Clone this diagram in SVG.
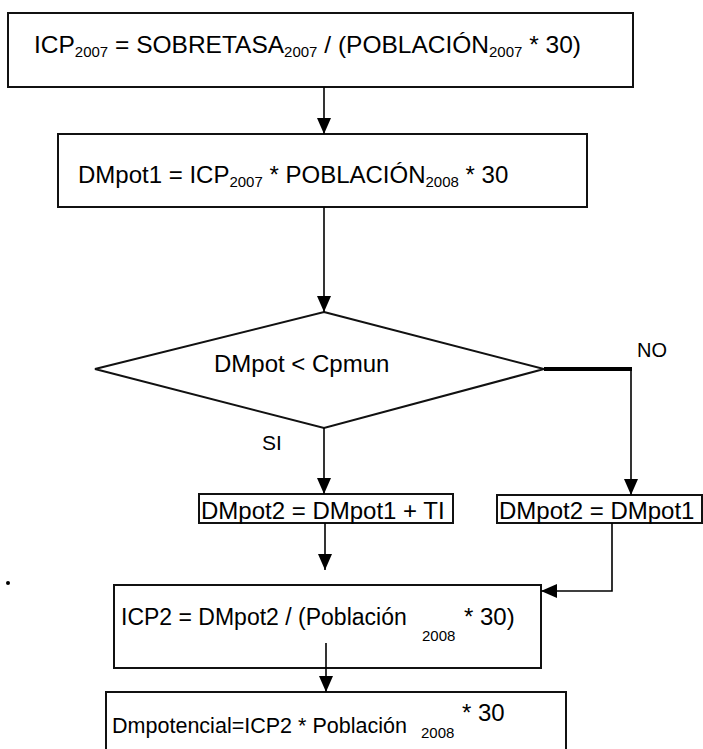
<svg xmlns="http://www.w3.org/2000/svg" width="703" height="749" viewBox="0 0 703 749">
<defs>
<marker id="ah" markerUnits="userSpaceOnUse" markerWidth="16" markerHeight="18" refX="16" refY="7" orient="auto">
<path d="M0,0 L16,7 L0,14 Z" fill="#000"/>
</marker>
<style>
.box{fill:#fff;stroke:#111;stroke-width:2}
.t{font-family:"Liberation Sans",Arial,sans-serif;font-size:24px;fill:#000}
.s{font-size:15px}
.c{fill:none;stroke:#000;stroke-width:1.6}
</style>
</defs>
<rect width="703" height="749" fill="#fff"/>
<g id="n1">
<rect class="box" x="8" y="13" width="625" height="74"/>
<text class="t" x="34" y="53" style="font-size:24.5px">ICP<tspan class="s" dy="4">2007</tspan><tspan dy="-4"> = SOBRETASA</tspan><tspan class="s" dy="4">2007</tspan><tspan dy="-4"> / (POBLACIÓN</tspan><tspan class="s" dy="4">2007</tspan><tspan dy="-4"> * 30)</tspan></text>
</g>
<g id="n2">
<rect class="box" x="58" y="134" width="529" height="73"/>
<text class="t" x="78" y="183">DMpot1 = ICP<tspan class="s" dy="4">2007</tspan><tspan dy="-4"> * POBLACIÓN</tspan><tspan class="s" dy="4">2008</tspan><tspan dy="-4"> * 30</tspan></text>
</g>
<g id="n3">
<polygon class="box" points="324,312 544,369 324,428 95,369"/>
<text class="t" x="214" y="372">DMpot &lt; Cpmun</text>
</g>
<g id="n4">
<rect class="box" x="199" y="494" width="254" height="29"/>
<text class="t" x="201" y="519">DMpot2 = DMpot1 + TI</text>
</g>
<g id="n5">
<rect class="box" x="497" y="495" width="205" height="28"/>
<text class="t" x="499" y="519">DMpot2 = DMpot1</text>
</g>
<g id="n6">
<rect class="box" x="114" y="585" width="427" height="83"/>
<text class="t" x="121" y="625" style="font-size:23px">ICP2 = DMpot2 / (Población</text>
<text class="t s" x="422" y="641">2008</text>
<text class="t" x="464" y="625">* 30)</text>
</g>
<g id="n7">
<rect class="box" x="106" y="692" width="460" height="70"/>
<text class="t" x="112" y="733" style="font-size:22px" textLength="295" lengthAdjust="spacingAndGlyphs">Dmpotencial=ICP2 * Población</text>
<text class="t s" x="421" y="738">2008</text>
<text class="t" x="462" y="721">* 30</text>
</g>
<circle cx="8" cy="583" r="2" fill="#000"/>
<g id="connectors">
<path class="c" d="M324,87 V134" marker-end="url(#ah)"/>
<path class="c" d="M324,207 V312" marker-end="url(#ah)"/>
<path class="c" d="M324,428 V494" marker-end="url(#ah)"/>
<path d="M544,369 H632" stroke="#000" stroke-width="4" fill="none"/>
<path class="c" d="M631,369 V495" marker-end="url(#ah)"/>
<path class="c" d="M325,523 V570" marker-end="url(#ah)"/>
<path class="c" d="M612,523 V591 H541" stroke-width="2.5" marker-end="url(#ah)"/>
<path class="c" d="M326,643 V692" marker-end="url(#ah)"/>
<text class="t" x="637" y="357" style="font-size:20px">NO</text>
<text class="t" x="262" y="450" style="font-size:21px">SI</text>
</g>
</svg>
